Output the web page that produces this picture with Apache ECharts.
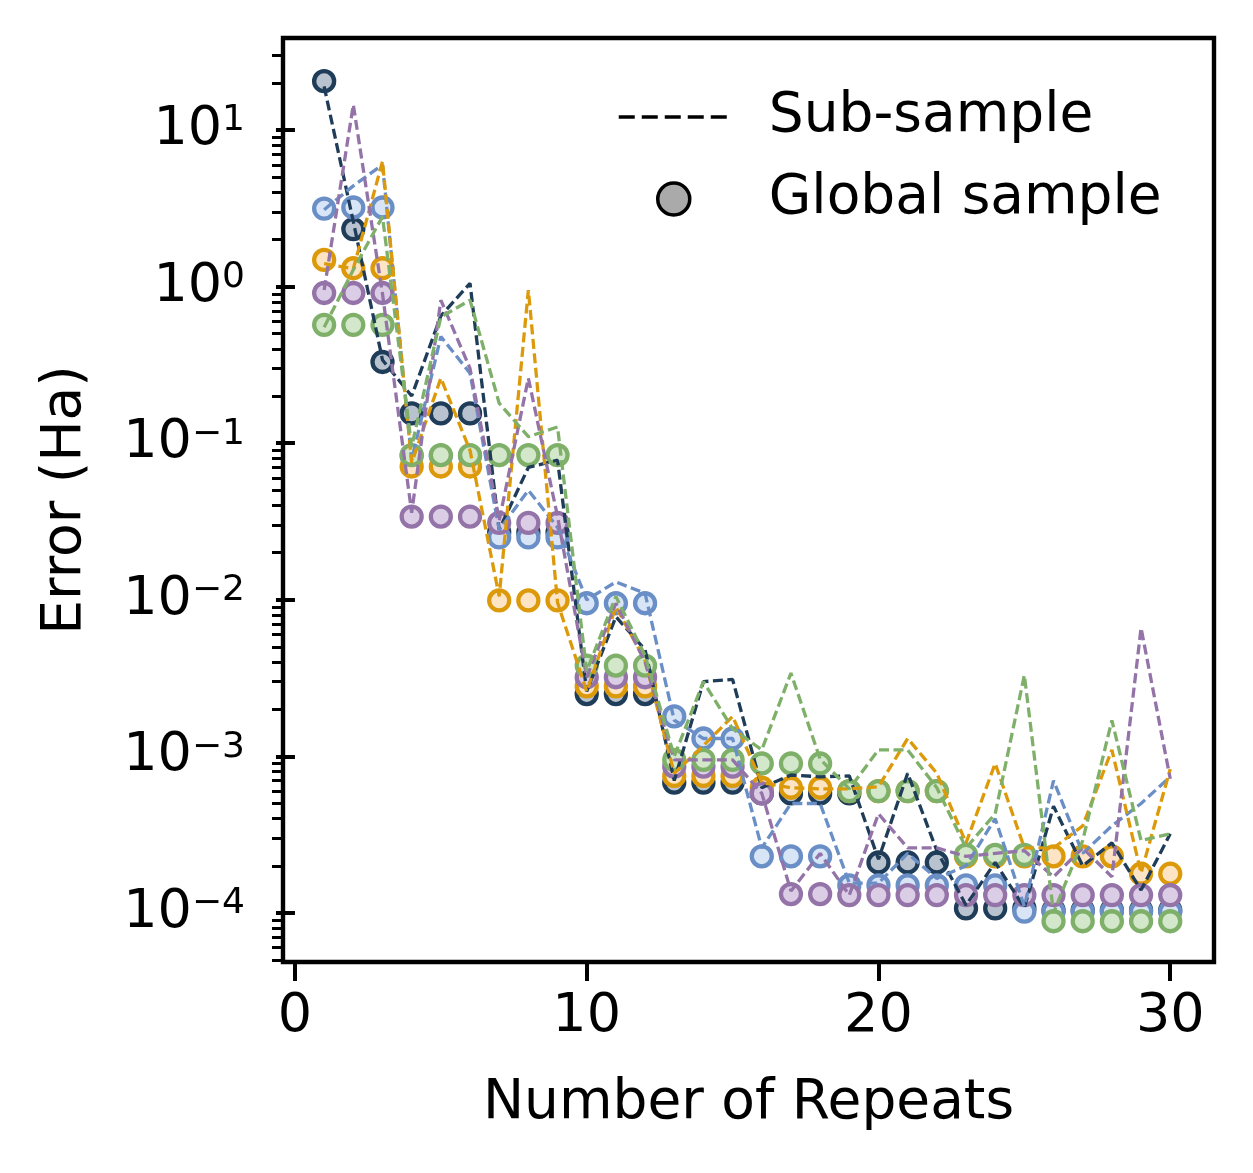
<!DOCTYPE html>
<html>
<head>
<meta charset="utf-8">
<script src="https://cdn.jsdelivr.net/npm/echarts@6/dist/echarts.min.js"></script>
<style>
html, body { margin: 0; padding: 0; background: #fff; }
#chart { width: 1253px; height: 1173px; }
</style>
</head>
<body>
<div id="chart"></div>
<script>
// number of repeats (x)
var repeats = [1, 2, 3, 4, 5, 6, 7, 8, 9, 10, 11, 12, 13, 14, 15, 16, 17, 18, 19, 20, 21, 22, 23, 24, 25, 26, 27, 28, 29, 30];

// sub-sample errors (dashed lines)
var subNavy   = [19, 2.6, 0.34, 0.2, 0.65, 1.05, 0.028, 0.07, 0.078, 0.0026, 0.0078, 0.0048, 0.0007, 0.003, 0.0031, 0.00063, 0.00076, 0.00074, 0.00075, 0.00022, 0.00078, 0.00025, 0.000112, 0.00021, 0.000108, 0.00048, 0.0002, 0.00028, 0.00014, 0.00032];
var subBlue   = [3.1, 4.4, 6.0, 0.078, 0.48, 0.28, 0.028, 0.05, 0.029, 0.01, 0.013, 0.011, 0.0017, 0.0013, 0.0013, 0.00026, 0.0005, 0.0005, 0.000155, 0.000155, 0.00024, 0.000166, 0.0002, 0.0004, 0.00011, 0.0007, 0.00024, 0.00036, 0.0005, 0.00074];
var subOrange = [1.4, 1.3, 6.3, 0.075, 0.26, 0.09, 0.0105, 0.95, 0.0096, 0.0026, 0.009, 0.0041, 0.00078, 0.00117, 0.0018, 0.00068, 0.00063, 0.00062, 0.00062, 0.00064, 0.0013, 0.00078, 0.00028, 0.0009, 0.00026, 0.00026, 0.00036, 0.0011, 0.00018, 0.00083];
var subPurple = [0.95, 14.5, 0.9, 0.036, 0.82, 0.3, 0.032, 0.26, 0.034, 0.0032, 0.0095, 0.004, 0.00095, 0.00095, 0.00095, 0.00058, 0.000138, 0.00024, 0.00013, 0.00043, 0.00026, 0.00026, 0.00023, 0.00024, 0.00025, 0.00017, 0.00026, 0.00017, 0.0066, 0.00072];
var subGreen  = [0.55, 1.28, 2.8, 0.095, 0.64, 0.82, 0.18, 0.11, 0.127, 0.0035, 0.0105, 0.0044, 0.001, 0.003, 0.0015, 0.0011, 0.0034, 0.00096, 0.00062, 0.0011, 0.0011, 0.00063, 0.00026, 0.00043, 0.0033, 0.0001, 0.00029, 0.0017, 0.00029, 0.00032];

// global sample errors (circles)
var globNavy   = [20.5, 2.33, 0.33, 0.155, 0.155, 0.155, 0.027, 0.027, 0.027, 0.0025, 0.0025, 0.0025, 0.00068, 0.00068, 0.00068, 0.00058, 0.00058, 0.00058, 0.00058, 0.00021, 0.00021, 0.00021, 0.000107, 0.000107, 0.000107, 0.000104, 0.000104, 0.000104, 0.000104, 0.000104];
var globBlue   = [3.15, 3.2, 3.2, 0.083, 0.083, 0.083, 0.025, 0.025, 0.025, 0.0095, 0.0095, 0.0095, 0.0018, 0.0013, 0.0013, 0.00023, 0.00023, 0.00023, 0.00015, 0.00015, 0.00015, 0.00015, 0.00015, 0.00015, 0.000102, 0.000102, 0.000102, 0.000102, 0.000102, 0.000102];
var globOrange = [1.48, 1.31, 1.31, 0.071, 0.071, 0.071, 0.0099, 0.0099, 0.0099, 0.0028, 0.0028, 0.0028, 0.00075, 0.00075, 0.00075, 0.00063, 0.00063, 0.00063, 0.0006, 0.0006, 0.0006, 0.0006, 0.00023, 0.00023, 0.00023, 0.00023, 0.00023, 0.00023, 0.000178, 0.000178];
var globPurple = [0.91, 0.91, 0.91, 0.034, 0.034, 0.034, 0.031, 0.031, 0.031, 0.0032, 0.0032, 0.0032, 0.00086, 0.00086, 0.00086, 0.00058, 0.000132, 0.000132, 0.00013, 0.00013, 0.00013, 0.00013, 0.00013, 0.00013, 0.00013, 0.00013, 0.00013, 0.00013, 0.00013, 0.00013];
var globGreen  = [0.57, 0.57, 0.57, 0.084, 0.084, 0.084, 0.084, 0.084, 0.084, 0.0038, 0.0038, 0.0038, 0.00095, 0.00095, 0.00095, 0.0009, 0.0009, 0.0009, 0.0006, 0.0006, 0.0006, 0.0006, 0.000235, 0.000235, 0.000235, 0.0000885, 0.0000885, 0.0000885, 0.0000885, 0.0000885];

// tick labels
var xTicks = [0, 10, 20, 30];
var yTicks = [1e-4, 1e-3, 1e-2, 1e-1, 1, 10];
var yMinorTicks = [];
[1e-5, 1e-4, 1e-3, 1e-2, 1e-1, 1, 10].forEach(function (d) {
	for (var k = 2; k <= 9; k++) {
		var v = +(k * d).toPrecision(3);
		if (v > 4.86e-5 && v < 38.7) yMinorTicks.push(v);
	}
});

var subSets  = [subNavy, subBlue, subOrange, subPurple, subGreen];
var globSets = [globNavy, globBlue, globOrange, globPurple, globGreen];
var edgeColors = ['#1f3c58', '#6a8ec6', '#dc9a0a', '#9473a8', '#7fb069'];
var fillColors = ['#b8c3cf', '#d8e5f7', '#fde4c4', '#dccde6', '#d3e7cb'];

function pairs(vals) {
	return repeats.map(function (x, i) { return [x, vals[i]]; });
}

var font = 'DejaVu Sans';
var series = [];
for (var i = 0; i < 5; i++) {
	series.push({
		type: 'scatter',
		data: pairs(globSets[i]),
		symbol: 'circle',
		symbolSize: 20,
		itemStyle: { color: fillColors[i], borderColor: edgeColors[i], borderWidth: 4.3, opacity: 1 },
		silent: true
	});
	series.push({
		type: 'line',
		data: pairs(subSets[i]),
		symbol: 'none',
		lineStyle: { color: edgeColors[i], width: 3.3, type: [10, 4.5] },
		silent: true
	});
}
// legend entries only
series.push({
	name: 'Sub-sample', type: 'line', data: [], symbol: 'none',
	itemStyle: { color: '#000' },
	lineStyle: { color: '#000', width: 3.5, type: [16, 7] }
});
series.push({
	name: 'Global sample', type: 'scatter', data: [], symbol: 'circle',
	itemStyle: { color: '#aaaaaa', borderColor: '#000', borderWidth: 3.5, opacity: 1 }
});

var chart = echarts.init(document.getElementById('chart'));
chart.setOption({
	animation: false,
	backgroundColor: '#fff',
	textStyle: { fontFamily: font, color: '#000' },
	grid: {
		left: 283, top: 38, width: 931, height: 924,
		show: true, borderColor: '#000', borderWidth: 4.4, backgroundColor: 'transparent'
	},
	legend: {
		orient: 'vertical',
		left: 612, top: 82,
		itemWidth: 110, itemHeight: 32, itemGap: 22,
		selectedMode: false,
		textStyle: { fontFamily: font, fontSize: 55, lineHeight: 60, color: '#000', padding: [0, 0, 0, 35] },
		data: [
			{ name: 'Sub-sample', itemStyle: { color: 'transparent', borderWidth: 0, opacity: 0 },
				lineStyle: { color: '#000', width: 3.5, type: [16, 7] } },
			{ name: 'Global sample', icon: 'circle',
				itemStyle: { color: '#aaaaaa', borderColor: '#000', borderWidth: 3.5 } }
		]
	},
	xAxis: {
		type: 'value',
		min: -0.41, max: 31.5,
		name: 'Number of Repeats',
		nameLocation: 'middle',
		nameGap: 114,
		nameTextStyle: { fontFamily: font, fontSize: 55, color: '#000' },
		axisLine: { show: false },
		splitLine: { show: false },
		axisTick: { show: true, length: 19, lineStyle: { color: '#000', width: 4 }, customValues: xTicks },
		axisLabel: { fontFamily: font, fontSize: 54, color: '#000', margin: 28, customValues: xTicks }
	},
	yAxis: [{
		type: 'log',
		logBase: 10,
		min: 4.86e-5, max: 38.7,
		position: 'left',
		name: 'Error (Ha)',
		nameLocation: 'middle',
		nameGap: 190,
		nameRotate: 90,
		nameTextStyle: { fontFamily: font, fontSize: 55, color: '#000' },
		axisLine: { show: false },
		splitLine: { show: false },
		axisTick: { show: true, length: 19, lineStyle: { color: '#000', width: 4 }, customValues: yTicks },
		axisLabel: {
			margin: 38,
			customValues: yTicks,
			formatter: function (v) {
				var e = Math.round(Math.log10(v));
				return '{b|10}{s|' + (e < 0 ? '\u2212' + (-e) : e) + '}';
			},
			rich: {
				b: { fontFamily: font, fontSize: 54, lineHeight: 54, color: '#000', verticalAlign: 'bottom' },
				s: { fontFamily: font, fontSize: 36, lineHeight: 36, color: '#000', verticalAlign: 'top', padding: [0, 0, 26, 0] }
			}
		}
	}, {
		type: 'log',
		logBase: 10,
		min: 4.86e-5, max: 38.7,
		position: 'left',
		axisLine: { show: false },
		splitLine: { show: false },
		axisLabel: { show: false },
		axisTick: { show: true, length: 11, lineStyle: { color: '#000', width: 3 }, customValues: yMinorTicks }
	}],
	series: series
});
</script>
</body>
</html>
